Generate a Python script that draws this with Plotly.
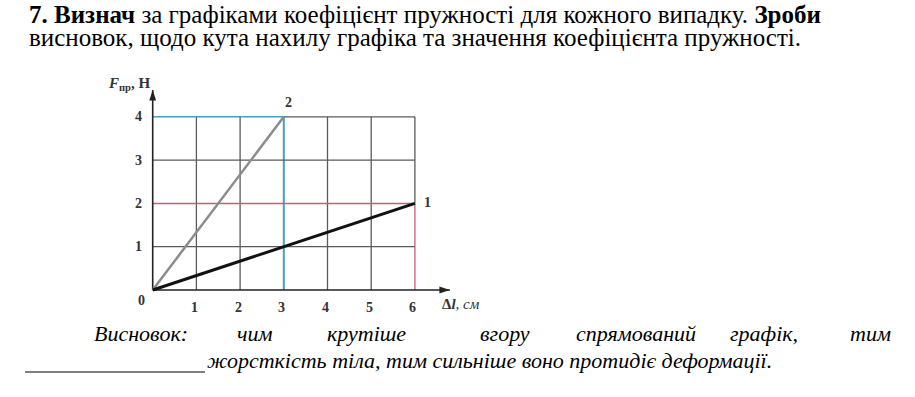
import plotly.graph_objects as go

W, H = 915, 397

# ---- data ----
x_ticks = [1, 2, 3, 4, 5, 6]
y_ticks = [1, 2, 3, 4]
x_tick_labels = ["1", "2", "3", "4", "5", "6"]
y_tick_labels = ["1", "2", "3", "4"]
line1_x = [0, 6]
line1_y = [0, 2]
line2_x = [0, 3]
line2_y = [0, 4]
x_axis_end = 6.8
y_axis_end = 4.62

title_line1 = "<b>7. Визнач</b> за графіками коефіцієнт пружності для кожного випадку. <b>Зроби</b>"
title_line2 = "висновок, щодо кута нахилу графіка та значення коефіцієнта пружності."
concl_words = ["Висновок:", "чим", "крутіше", "вгору", "спрямований", "графік,", "тим"]
concl_line2 = "жорсткість тіла, тим сильніше воно протидіє деформації."

# ---- pixel mapping (full-figure axes) ----
X0, SX = 152.7, 43.7   # px of x=0, px per unit
Y0, SY = 290.0, 43.3
xr = [-X0 / SX, (W - X0) / SX]
yr = [-(H - Y0) / SY, Y0 / SY]

GRID = "#5a5a5a"
BLUE = "#4a9ec0"
RED = "#cc5a78"
SERIF = "Liberation Serif, Times New Roman, serif"

fig = go.Figure()

def seg(x, y, color, width):
    fig.add_trace(go.Scatter(x=x, y=y, mode="lines",
                             line=dict(color=color, width=width),
                             hoverinfo="skip", showlegend=False))

# vertical grid lines
for xv in x_ticks:
    if xv == 3:
        seg([xv, xv], [0, y_ticks[-1]], BLUE, 2)
    elif xv == 6:
        seg([xv, xv], [2, y_ticks[-1]], GRID, 1.3)
        seg([xv, xv], [0, 2], RED, 1.3)
    else:
        seg([xv, xv], [0, y_ticks[-1]], GRID, 1.3)
# horizontal grid lines
for yv in y_ticks:
    if yv == 2:
        seg([0, x_ticks[-1]], [yv, yv], RED, 1.5)
    elif yv == 4:
        seg([0, 3], [yv, yv], BLUE, 1.5)
        seg([3, x_ticks[-1]], [yv, yv], GRID, 1.3)
    else:
        seg([0, x_ticks[-1]], [yv, yv], GRID, 1.3)

# axes lines
seg([0, x_axis_end], [0, 0], "#222", 1.6)
seg([0, 0], [0, y_axis_end], "#222", 1.6)
# arrow heads
fig.add_trace(go.Scatter(x=[x_axis_end, 0], y=[0, y_axis_end], mode="markers",
                         marker=dict(symbol="arrow", size=11, angle=[90, 0],
                                     color="#222", line=dict(width=0)),
                         hoverinfo="skip", showlegend=False))

# graphs
seg(line2_x, line2_y, "#8c8c8c", 2.5)
seg(line1_x, line1_y, "#111111", 3)

annotations = []

tick_font = dict(family=SERIF, size=14, color="#333")
for xv, lab in zip(x_ticks, x_tick_labels):
    annotations.append(dict(x=xv, y=0, xref="x", yref="y", text="<b>%s</b>" % lab,
                            showarrow=False, font=tick_font, xshift=-2, yshift=-17))
for yv, lab in zip(y_ticks, y_tick_labels):
    annotations.append(dict(x=0, y=yv, xref="x", yref="y", text="<b>%s</b>" % lab,
                            showarrow=False, font=tick_font, xshift=-14))
annotations.append(dict(x=0, y=0, xref="x", yref="y", text="<b>0</b>", showarrow=False,
                        font=tick_font, xshift=-11, yshift=-10))

# line labels
annotations.append(dict(x=line2_x[-1], y=line2_y[-1], xref="x", yref="y", text="<b>2</b>",
                        showarrow=False, font=tick_font, xshift=5, yshift=14))
annotations.append(dict(x=line1_x[-1], y=line1_y[-1], xref="x", yref="y", text="<b>1</b>",
                        showarrow=False, font=tick_font, xshift=13, yshift=1))

# axis titles
annotations.append(dict(x=0, y=y_axis_end, xref="x", yref="y",
                        text="<b><i>F</i></b><sub><b>пр</b></sub><b>, Н</b>",
                        showarrow=False, xanchor="right", font=dict(family=SERIF, size=15, color="#333"),
                        xshift=-1, yshift=6))
annotations.append(dict(x=x_axis_end, y=0, xref="x", yref="y",
                        text="<b>Δ<i>l</i></b><i>, см</i>",
                        showarrow=False, xanchor="left", font=dict(family=SERIF, size=15, color="#333"),
                        xshift=-10, yshift=-14))

# title text (paper coords = pixels)
def px(xp, yp):
    return xp / W, 1 - yp / H

tf = dict(family=SERIF, size=25, color="#000")
x_, y_ = px(27, 24)
annotations.append(dict(x=x_, y=y_, xref="paper", yref="paper", text=title_line1, showarrow=False,
                        xanchor="left", yanchor="bottom", font=tf, yshift=-6))
x_, y_ = px(27, 47)
annotations.append(dict(x=x_, y=y_, xref="paper", yref="paper", text=title_line2, showarrow=False,
                        xanchor="left", yanchor="bottom", font=tf, yshift=-6))

# conclusion
cf = dict(family=SERIF, size=22, color="#000", style="italic")
word_px = [92, 235, 325, 478, 574, 728, 848]
for wx, wtext in zip(word_px, concl_words):
    x_, y_ = px(wx, 343)
    annotations.append(dict(x=x_, y=y_, xref="paper", yref="paper", text=wtext,
                            showarrow=False, xanchor="left", yanchor="bottom", font=cf, yshift=-5))
x_, y_ = px(205, 370)
annotations.append(dict(x=x_, y=y_, xref="paper", yref="paper", text=concl_line2,
                        showarrow=False, xanchor="left", yanchor="bottom", font=cf, yshift=-5))

shapes = [dict(type="line", xref="paper", yref="paper", x0=25 / W, x1=205 / W,
               y0=1 - 372 / H, y1=1 - 372 / H, line=dict(color="#000", width=1))]

fig.update_layout(
    width=W, height=H,
    margin=dict(l=0, r=0, t=0, b=0),
    paper_bgcolor="white", plot_bgcolor="white",
    xaxis=dict(range=xr, visible=False, fixedrange=True),
    yaxis=dict(range=yr, visible=False, fixedrange=True),
    annotations=annotations, shapes=shapes,
    showlegend=False,
)

fig.write_html("out.html", config={"displayModeBar": False},
               post_script="document.body.style.margin='0';document.body.style.overflow='hidden';")
